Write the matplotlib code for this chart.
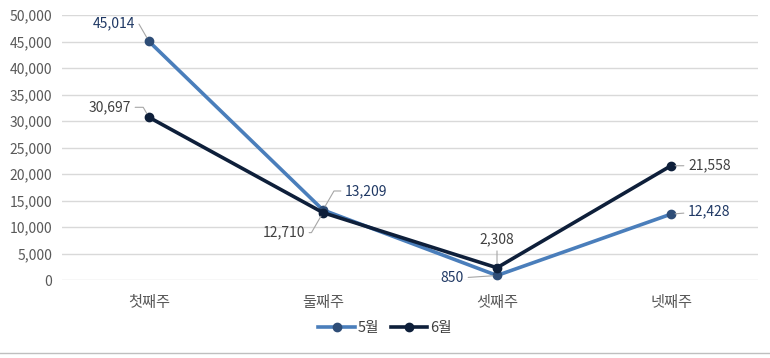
import matplotlib
matplotlib.use("Agg")
import matplotlib.pyplot as plt
from matplotlib.lines import Line2D

plt.rcParams['font.family'] = ['Noto Sans CJK KR', 'DejaVu Sans']

categories = ['첫째주', '둘째주', '셋째주', '넷째주']
may = [45014, 13209, 850, 12428]
june = [30697, 12710, 2308, 21558]
series_names = ['5월', '6월']
yticks = [0, 5000, 10000, 15000, 20000, 25000, 30000, 35000, 40000, 45000, 50000]

may_color = '#4A7EBB'
june_color = '#0E1F3A'
may_marker = '#2E4D77'
may_text = '#1F3864'
june_text = '#404040'
leader = '#A6A6A6'

fig = plt.figure(figsize=(7.7, 3.58), dpi=100)
ax = fig.add_axes([62/770, 1-280/358, (758-62)/770, (280-15)/358])

x = list(range(len(categories)))
ax.plot(x, may, color=may_color, lw=2.6, marker='o', ms=6, mfc=may_marker, mec=may_marker, zorder=3)
ax.plot(x, june, color=june_color, lw=2.6, marker='o', ms=6, mfc=june_color, mec=june_color, zorder=4)

ax.set_xlim(-0.5, 3.5)
ax.set_ylim(0, 50000)
ax.set_yticks(yticks)
ax.set_yticklabels([f'{v:,}' for v in yticks])
ax.set_xticks(x)
ax.set_xticklabels(categories)
ax.tick_params(length=0, colors='#595959')
ax.tick_params(axis='y', labelsize=10, pad=7)
ax.tick_params(axis='x', labelsize=11, pad=10)
ax.grid(axis='y', color='#D9D9D9', lw=1)
ax.set_axisbelow(True)
for s in ax.spines.values():
    s.set_visible(False)

# data labels: (series values, index, offset px, ha, color, angleB)
labels = [
    (may, 0, (-14, 18), 'right', may_text, 120),
    (june, 0, (-18, 10), 'right', june_text, 120),
    (may, 1, (22, 19), 'left', may_text, 60),
    (june, 1, (-18, -20), 'right', june_text, 60),
    (june, 2, (0, 28), 'center', june_text, None),
    (may, 2, (-33, -3), 'right', may_text, None),
    (june, 3, (17, 0), 'left', june_text, None),
    (may, 3, (17, 3), 'left', may_text, None),
]
for vals, i, off, ha, col, angB in labels:
    cs = 'arc3' if angB is None else f'angle,angleA=0,angleB={angB},rad=0'
    ax.annotate(f'{vals[i]:,}', xy=(i, vals[i]), xytext=off, textcoords='offset pixels',
                ha=ha, va='center', fontsize=10, color=col, zorder=5,
                arrowprops=dict(arrowstyle='-', color=leader, lw=0.8,
                                shrinkA=1, shrinkB=3, connectionstyle=cs))

handles = [
    Line2D([0], [0], color=may_color, lw=2.6, marker='o', ms=6, mfc=may_marker, mec=may_marker),
    Line2D([0], [0], color=june_color, lw=2.6, marker='o', ms=6, mfc=june_color, mec=june_color),
]
fig.legend(handles, series_names, loc='center', bbox_to_anchor=(0.5, 1-328/358), ncol=2,
           frameon=False, fontsize=10.5, handlelength=2.5, handletextpad=0.2, columnspacing=0.8,
           labelcolor='#404040')

fig.add_artist(Line2D([0, 1], [1-353/358, 1-353/358], color='#BFBFBF', lw=1, transform=fig.transFigure))

fig.savefig('out.png', dpi=100)
